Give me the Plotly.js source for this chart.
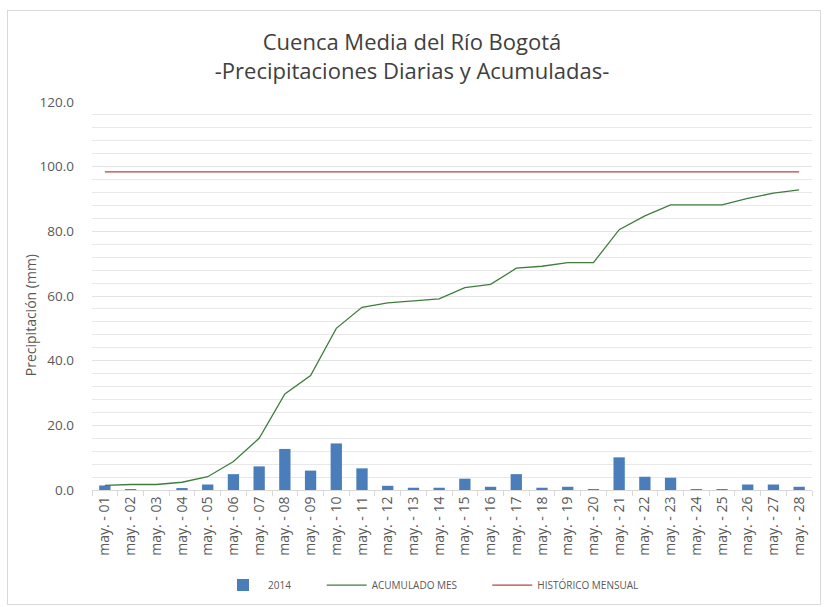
<!DOCTYPE html>
<html>
<head>
<meta charset="utf-8">
<script src="https://cdn.plot.ly/plotly-3.0.1.min.js"></script>
<style>
  html, body { margin: 0; padding: 0; background: #fff; }
  #wrap { position: relative; width: 824px; height: 607px; }
  #frame { position: absolute; left: 7px; top: 10px; width: 812px; height: 593px; border: 1px solid #d9d9d9; pointer-events: none; }
  #chart { position: absolute; left: 0; top: 0; width: 824px; height: 607px; }
</style>
</head>
<body>
<div id="wrap">
  <div id="chart"></div>
  <div id="frame"></div>
</div>
<script>
const categories = ["may. - 01","may. - 02","may. - 03","may. - 04","may. - 05","may. - 06","may. - 07",
  "may. - 08","may. - 09","may. - 10","may. - 11","may. - 12","may. - 13","may. - 14",
  "may. - 15","may. - 16","may. - 17","may. - 18","may. - 19","may. - 20","may. - 21",
  "may. - 22","may. - 23","may. - 24","may. - 25","may. - 26","may. - 27","may. - 28"];
const daily2014 = [1.4,0.3,0.0,0.6,1.7,4.9,7.3,12.7,6.0,14.4,6.7,1.3,0.7,0.7,
  3.5,1.0,4.9,0.7,1.0,0.3,10.1,4.1,3.8,0.3,0.3,1.7,1.7,1.0];
const acumuladoMes = [1.4,1.7,1.7,2.4,4.1,8.8,16.0,29.7,35.4,50.0,56.5,57.9,58.5,59.1,
  62.6,63.6,68.6,69.2,70.3,70.3,80.5,84.8,88.2,88.2,88.2,90.2,91.8,92.8];
const historicoMensual = [98.4,98.4,98.4,98.4,98.4,98.4,98.4,98.4,98.4,98.4,98.4,98.4,98.4,98.4,
  98.4,98.4,98.4,98.4,98.4,98.4,98.4,98.4,98.4,98.4,98.4,98.4,98.4,98.4];
const yTickVals = [0,20,40,60,80,100,120];
const yTitle = "Precipitación (mm)";

const font = "'Open Sans', 'Noto Sans', sans-serif";

const traces = [
  { type: "bar", name: "2014", x: categories, y: daily2014,
    marker: { color: "#4a7ebb" }, legend: "legend" },
  { type: "scatter", mode: "lines", name: "ACUMULADO MES", x: categories, y: acumuladoMes,
    line: { color: "#3f7d3f", width: 1.3 }, legend: "legend2" },
  { type: "scatter", mode: "lines", name: "HISTÓRICO MENSUAL", x: categories, y: historicoMensual,
    line: { color: "#c0403a", width: 1.3 }, legend: "legend3" }
];

function leg(x) {
  return {
    orientation: "h", x: x, xanchor: "left", yref: "container", y: 0.06, yanchor: "top",
    font: { family: font, size: 10, color: "#595959" },
    itemwidth: 40, bgcolor: "rgba(0,0,0,0)"
  };
}

const layout = {
  width: 824, height: 607,
  margin: { l: 92, r: 12, t: 102, b: 117, autoexpand: false },
  paper_bgcolor: "#fff", plot_bgcolor: "#fff",
  bargap: 0.56,
  showlegend: true,
  font: { family: font, color: "#595959" },
  title: {
    text: "Cuenca Media del Río Bogotá<br>-Precipitaciones Diarias y Acumuladas-",
    font: { family: font, size: 22, color: "#404040" },
    x: 0.5, xanchor: "center", yref: "container", y: 0.917, yanchor: "top"
  },
  xaxis: {
    type: "category",
    tickangle: -90,
    tickfont: { family: font, size: 14, color: "#595959" },
    ticks: "outside", tickson: "boundaries", ticklen: 5, tickcolor: "#d9d9d9",
    showline: true, linecolor: "#d9d9d9", linewidth: 1,
    showgrid: false, zeroline: false, automargin: false
  },
  yaxis: {
    range: [0, 120],
    tickvals: yTickVals,
    tickformat: ".1f",
    tickfont: { family: font, size: 13.5, color: "#595959" },
    showgrid: true, gridcolor: "#e3e3e3", gridwidth: 1,
    minor: { dtick: 4, showgrid: true, gridcolor: "#e8e8e8", gridwidth: 1 },
    zeroline: false, showline: false, automargin: false,
    ticks: "", ticklabelstandoff: 17
  },
  annotations: [{
    text: yTitle, textangle: -90, showarrow: false,
    xref: "paper", yref: "paper", x: -0.085, y: 0.45, xanchor: "center", yanchor: "middle",
    font: { family: font, size: 14, color: "#595959" }
  }],
  legend: leg(0.175),
  legend2: leg(0.319),
  legend3: leg(0.549)
};

Plotly.newPlot("chart", traces, layout, { displayModeBar: false, staticPlot: true });
</script>
</body>
</html>
